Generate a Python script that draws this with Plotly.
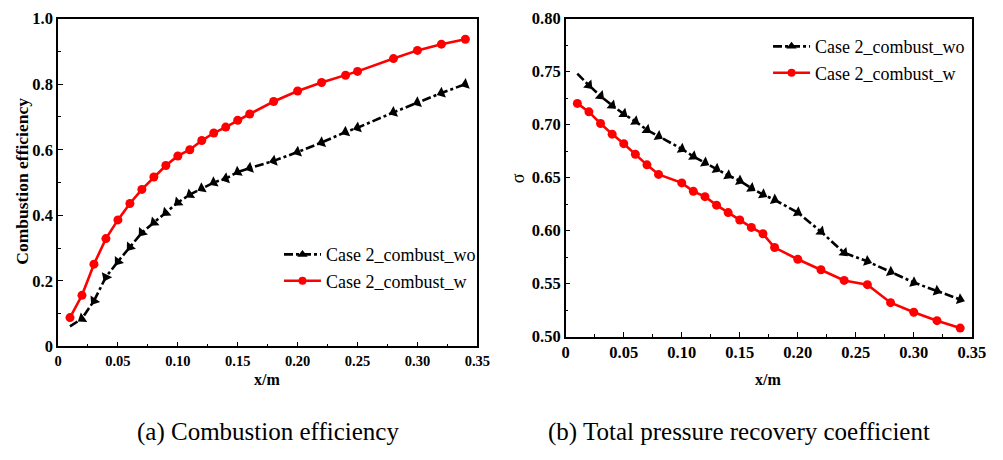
import plotly.graph_objects as go

# ---------------- data ----------------
x_eff_wo = [0.01, 0.02, 0.03, 0.04, 0.05, 0.06, 0.07, 0.08, 0.09, 0.10, 0.11, 0.12, 0.13,
            0.14, 0.15, 0.16, 0.18, 0.20, 0.22, 0.24, 0.25, 0.28, 0.30, 0.32, 0.34]
eff_wo = [0.061, 0.085, 0.139, 0.212, 0.259, 0.303, 0.347, 0.378, 0.408, 0.439, 0.463, 0.482,
          0.500, 0.512, 0.532, 0.544, 0.566, 0.593, 0.622, 0.654, 0.667, 0.714, 0.744, 0.773, 0.800]
x_eff_w = [0.01, 0.02, 0.03, 0.04, 0.05, 0.06, 0.07, 0.08, 0.09, 0.10, 0.11, 0.12, 0.13,
           0.14, 0.15, 0.16, 0.18, 0.20, 0.22, 0.24, 0.25, 0.28, 0.30, 0.32, 0.34]
eff_w = [0.088, 0.156, 0.251, 0.329, 0.386, 0.436, 0.479, 0.517, 0.552, 0.581, 0.600, 0.628,
         0.651, 0.669, 0.690, 0.709, 0.747, 0.779, 0.805, 0.827, 0.839, 0.878, 0.903, 0.922, 0.937]

x_sig = [0.01, 0.02, 0.03, 0.04, 0.05, 0.06, 0.07, 0.08, 0.10, 0.11, 0.12, 0.13, 0.14,
         0.15, 0.16, 0.17, 0.18, 0.20, 0.22, 0.24, 0.26, 0.28, 0.30, 0.32, 0.34]
sig_wo = [0.748, 0.737, 0.727, 0.718, 0.710, 0.703, 0.695, 0.689, 0.677, 0.670, 0.664, 0.658,
          0.652, 0.647, 0.640, 0.634, 0.629, 0.617, 0.599, 0.579, 0.571, 0.561, 0.551, 0.543, 0.535]
sig_w = [0.720, 0.712, 0.701, 0.691, 0.682, 0.672, 0.662, 0.653, 0.645, 0.637, 0.632, 0.624,
         0.617, 0.610, 0.603, 0.597, 0.584, 0.573, 0.563, 0.553, 0.549, 0.532, 0.523, 0.515, 0.508]

name_wo = "Case 2_combust_wo"
name_w = "Case 2_combust_w"

x_tickvals = [0, 0.05, 0.10, 0.15, 0.20, 0.25, 0.30, 0.35]
x_ticktext = ["0", "0.05", "0.10", "0.15", "0.20", "0.25", "0.30", "0.35"]
yl_tickvals = [0, 0.2, 0.4, 0.6, 0.8, 1.0]
yl_ticktext = ["0", "0.2", "0.4", "0.6", "0.8", "1.0"]
yr_tickvals = [0.50, 0.55, 0.60, 0.65, 0.70, 0.75, 0.80]
yr_ticktext = ["0.50", "0.55", "0.60", "0.65", "0.70", "0.75", "0.80"]

# ---------------- figure ----------------
W, H = 1003, 460
SERIF = '"Liberation Serif", "Times New Roman", serif'

fig = go.Figure()

black_line = dict(color="black", width=2.6, dash="dashdot")
red_line = dict(color="#ff0000", width=2.6)

fig.add_trace(go.Scatter(x=x_eff_wo, y=eff_wo, name=name_wo, mode="lines+markers",
                         line=black_line,
                         marker=dict(symbol="triangle-up", size=10, color="black",
                                     angleref="previous", angle=180),
                         xaxis="x", yaxis="y", legend="legend", showlegend=False))
fig.add_trace(go.Scatter(x=x_eff_w, y=eff_w, name=name_w, mode="lines+markers",
                         line=red_line, marker=dict(symbol="circle", size=9, color="#ff0000"),
                         xaxis="x", yaxis="y", legend="legend", showlegend=False))
fig.add_trace(go.Scatter(x=x_sig, y=sig_wo, name=name_wo, mode="lines+markers",
                         line=black_line,
                         marker=dict(symbol="triangle-up", size=10, color="black",
                                     angleref="previous"),
                         xaxis="x2", yaxis="y2", legend="legend2", showlegend=False))
fig.add_trace(go.Scatter(x=x_sig, y=sig_w, name=name_w, mode="lines+markers",
                         line=red_line, marker=dict(symbol="circle", size=9, color="#ff0000"),
                         xaxis="x2", yaxis="y2", legend="legend2", showlegend=False))

# legend-only entries (upright symbols as in the reference legends)
for lg, xa, ya in [("legend", "x", "y"), ("legend2", "x2", "y2")]:
    fig.add_trace(go.Scatter(x=[None], y=[None], name=name_wo, mode="lines+markers",
                             line=black_line,
                             marker=dict(symbol="triangle-up", size=9, color="black"),
                             xaxis=xa, yaxis=ya, legend=lg))
    fig.add_trace(go.Scatter(x=[None], y=[None], name=name_w, mode="lines+markers",
                             line=red_line,
                             marker=dict(symbol="circle", size=8, color="#ff0000"),
                             xaxis=xa, yaxis=ya, legend=lg))

def px_x(p):
    return p / W

def px_y(p):
    return 1 - p / H

axis_common = dict(showline=True, linecolor="black", linewidth=1.5, mirror=True,
                   ticks="inside", ticklen=5, tickwidth=1.3, tickcolor="black",
                   showgrid=False, zeroline=False,
                   minor=dict(ticks="inside", ticklen=3, tickwidth=1.2, tickcolor="black"))

def tfont(size):
    return dict(family=SERIF, size=size, color="black", weight="bold")

fig.update_layout(
    width=W, height=H,
    margin=dict(l=0, r=0, t=0, b=0),
    paper_bgcolor="white", plot_bgcolor="white",
    font=dict(family=SERIF, color="black"),
    xaxis=dict(domain=[px_x(55), px_x(482)], range=[0, 0.35],
               tickvals=x_tickvals, ticktext=x_ticktext, tickfont=tfont(14.5),
               anchor="y", **axis_common),
    yaxis=dict(domain=[px_y(352), px_y(10)], range=[0, 1.0],
               tickvals=yl_tickvals, ticktext=yl_ticktext, tickfont=tfont(16.5),
               anchor="x", **axis_common),
    xaxis2=dict(domain=[px_x(572), px_x(985.5)], range=[0, 0.35],
                tickvals=x_tickvals, ticktext=x_ticktext, tickfont=tfont(16.5),
                anchor="y2", **axis_common),
    yaxis2=dict(domain=[px_y(341.7), px_y(10)], range=[0.50, 0.80],
                tickvals=yr_tickvals, ticktext=yr_ticktext, tickfont=tfont(16.5),
                anchor="x2", **axis_common),
    legend=dict(x=px_x(280), y=px_y(237), xanchor="left", yanchor="top",
                bgcolor="rgba(0,0,0,0)", borderwidth=0, itemwidth=37,
                font=dict(family=SERIF, size=18, color="black"),
                tracegroupgap=0),
    legend2=dict(x=px_x(778), y=px_y(20), xanchor="left", yanchor="top",
                 bgcolor="rgba(0,0,0,0)", borderwidth=0, itemwidth=37,
                 font=dict(family=SERIF, size=18, color="black"),
                 tracegroupgap=0),
)

fig.update_xaxes(minor_dtick=0.025)
fig.update_layout(yaxis_minor_dtick=0.1, yaxis2_minor_dtick=0.025)

def note(text, x, y, size, angle=0):
    return dict(text=text, x=px_x(x), y=px_y(y), xref="paper", yref="paper",
                xanchor="center", yanchor="middle", showarrow=False, textangle=angle,
                font=dict(family=SERIF, size=size, color="black"))

ann = [
    note("<b>Combustion efficiency</b>", 17.5, 180, 17.5, -90),
    note("σ", 523, 177, 18, -90),
    note("<b>x/m</b>", 268, 386, 16),
    note("<b>x/m</b>", 778, 386, 16),
    note("(a) Combustion efficiency", 269, 441, 25),
    note("(b) Total pressure recovery coefficient", 748, 441, 25),
]
fig.update_layout(annotations=ann)

fig.write_html("out.html")
